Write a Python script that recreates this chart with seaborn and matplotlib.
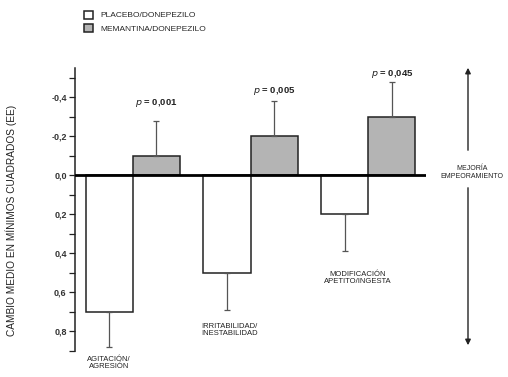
import numpy as np
import pandas as pd
import matplotlib
matplotlib.use("Agg")
import matplotlib.pyplot as plt
import seaborn as sns
from matplotlib.ticker import FixedLocator, FixedFormatter

# data (negative = improvement, drawn upward)
categories = ["AGITACIÓN/\nAGRESIÓN", "IRRITABILIDAD/\nINESTABILIDAD", "MODIFICACIÓN\nAPETITO/INGESTA"]
groups = ["PLACEBO/DONEPEZILO", "MEMANTINA/DONEPEZILO"]
placebo = [0.70, 0.50, 0.20]
placebo_ee = [0.18, 0.19, 0.19]
memantina = [-0.10, -0.20, -0.30]
memantina_ee = [0.18, 0.18, 0.18]
p_values = ["0,001", "0,005", "0,045"]

yticks = [-0.4, -0.2, 0.0, 0.2, 0.4, 0.6, 0.8]
ytick_labels = ["-0,4", "-0,2", "0,0", "0,2", "0,4", "0,6", "0,8"]

df = pd.DataFrame({
    "categoria": categories * 2,
    "grupo": [groups[0]] * 3 + [groups[1]] * 3,
    "valor": placebo + memantina,
})

sns.set_style("white")
plt.rcParams["font.family"] = ["Liberation Sans", "DejaVu Sans"]

fig = plt.figure(figsize=(5.08, 3.77), dpi=100)
ax = fig.add_axes([75 / 508, 1 - 351 / 377, 351 / 508, 283 / 377])

sns.barplot(
    data=df, x="categoria", y="valor", hue="grupo",
    palette=["white", "#b4b4b4"], edgecolor="#222222", linewidth=1.1,
    width=0.8, errorbar=None, ax=ax,
)

# one-sided error bars, pointing away from zero
for cont, vals, errs, direction in [
    (ax.containers[0], placebo, placebo_ee, 1),
    (ax.containers[1], memantina, memantina_ee, -1),
]:
    xs = [b.get_x() + b.get_width() / 2 for b in cont]
    yerr = [errs, [0] * 3] if direction < 0 else [[0] * 3, errs]
    ax.errorbar(xs, vals, yerr=yerr, fmt="none", ecolor="#555555",
                elinewidth=0.9, capsize=2, capthick=0.9, zorder=1)

# p-values above the memantine bars
p_gap = [0.06, 0.02, 0.01]
for b, v, e, p, g in zip(ax.containers[1], memantina, memantina_ee, p_values, p_gap):
    xc = b.get_x() + b.get_width() / 2
    ax.text(xc, v - e - g, f"$p$ = {p}", ha="center", va="bottom",
            fontsize=6.8, fontweight="bold", color="#222222")

# category labels under the placebo bars
label_dx = [0.0, 0.02, 0.11]
label_gap = [0.045, 0.065, 0.1]
for b, v, e, lab, dx, g in zip(ax.containers[0], placebo, placebo_ee, categories, label_dx, label_gap):
    xc = b.get_x() + b.get_width() / 2 + dx
    ax.text(xc, v + e + g, lab, ha="center", va="top", fontsize=5.5,
            color="#222222", linespacing=1.1, clip_on=False)

ax.axhline(0, color="black", lw=2, zorder=3)

ax.set_ylim(0.9, -0.55)
ax.set_xlim(-0.49, 2.49)
ax.yaxis.set_major_locator(FixedLocator(yticks))
ax.yaxis.set_major_formatter(FixedFormatter(ytick_labels))
ax.yaxis.set_minor_locator(FixedLocator(np.round(np.arange(-0.5, 0.91, 0.1), 2)))
ax.tick_params(axis="y", which="both", direction="out", left=True, length=4,
               width=0.9, color="#222222", labelsize=6.5, pad=2)
for t in ax.get_yticklabels():
    t.set_fontweight("bold")
    t.set_color("#333333")
ax.set_xticks([])
ax.set_xlabel("")
ax.set_ylabel("CAMBIO MEDIO EN MÍNIMOS CUADRADOS (EE)", fontsize=7.3, color="#222222")
ax.yaxis.set_label_coords(-0.165, 0.46)
for s in ["top", "right", "bottom"]:
    ax.spines[s].set_visible(False)
ax.spines["left"].set_color("#222222")
ax.spines["left"].set_linewidth(1.1)

handles, labels = ax.get_legend_handles_labels()
ax.legend(handles, labels, loc="upper left", bbox_to_anchor=(76 / 508, 1 - 3 / 377),
          bbox_transform=fig.transFigure, frameon=False, fontsize=6,
          handlelength=1.1, handleheight=1.1, labelspacing=0.55, handletextpad=0.9)

# direction arrows on the right
ax.annotate("", xy=(468 / 508, 1 - 65 / 377), xytext=(468 / 508, 1 - 153 / 377),
            xycoords="figure fraction",
            arrowprops=dict(arrowstyle="-|>", color="#222222", lw=1, mutation_scale=8))
ax.annotate("", xy=(468 / 508, 1 - 348 / 377), xytext=(468 / 508, 1 - 185 / 377),
            xycoords="figure fraction",
            arrowprops=dict(arrowstyle="-|>", color="#222222", lw=1, mutation_scale=8))
fig.text(472 / 508, 1 - 173 / 377, "MEJORÍA\nEMPEORAMIENTO", ha="center", va="center",
         fontsize=5, color="#222222", linespacing=1.2)

fig.savefig("out.png", dpi=100)
